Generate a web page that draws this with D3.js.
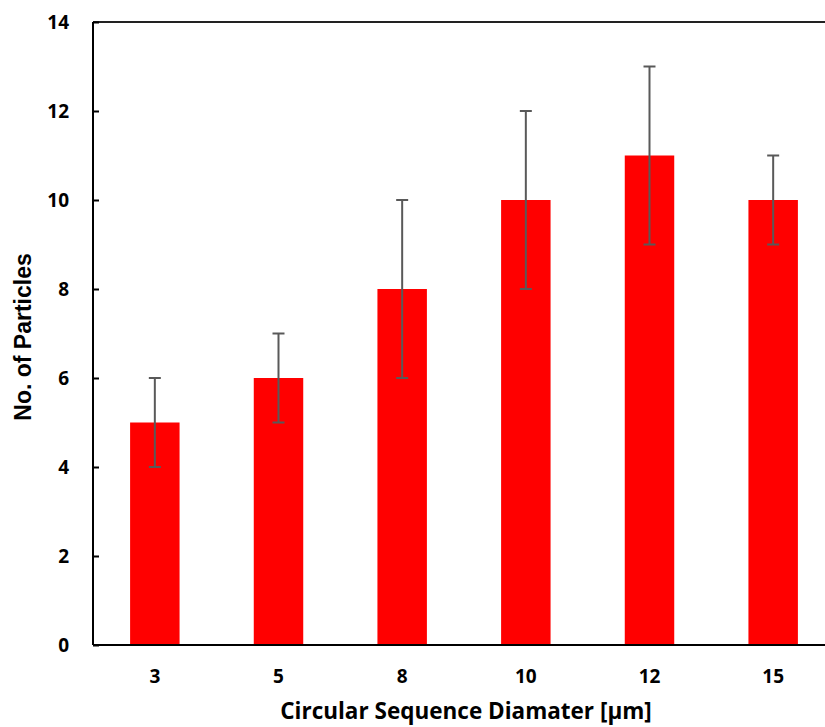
<!DOCTYPE html>
<html><head><meta charset="utf-8">
<script src="https://cdn.jsdelivr.net/npm/d3@7"></script>
<style>body{margin:0;background:#fff}svg{display:block}</style>
</head><body>
<script>
const categories = ["3","5","8","10","12","15"];
const values = [5,6,8,10,11,10];
const errors = [1,1,2,2,2,1];
const yTicks = [0,2,4,6,8,10,12,14];

const W=825,H=727;
const mLeft=93, mTop=22, mBottom=645, mRight=835;
const svg=d3.select("body").append("svg").attr("width",W).attr("height",H);
const x=d3.scaleBand().domain(categories).range([mLeft,mRight]).paddingInner(0.6).paddingOuter(0.3);
const y=d3.scaleLinear().domain([0,14]).range([mBottom,mTop]);
const tickFont="'Open Sans', Lato, sans-serif";

// bars
svg.append("g").selectAll("rect").data(values).join("rect")
  .attr("x",(d,i)=>x(categories[i])).attr("width",x.bandwidth())
  .attr("y",d=>y(d)).attr("height",d=>y(0)-y(d)).attr("fill","#ff0000");

// error bars
const eg=svg.append("g").attr("stroke","#595959").attr("stroke-width",2);
values.forEach((v,i)=>{
  const cx=x(categories[i])+x.bandwidth()/2;
  eg.append("line").attr("x1",cx).attr("x2",cx).attr("y1",y(v-errors[i])).attr("y2",y(v+errors[i]));
  [v-errors[i],v+errors[i]].forEach(e=>eg.append("line").attr("x1",cx-6).attr("x2",cx+6).attr("y1",y(e)).attr("y2",y(e)));
});

// top border
svg.append("line").attr("x1",mLeft).attr("x2",W).attr("y1",mTop).attr("y2",mTop).attr("stroke","#222").attr("stroke-width",2);

// y axis
const ya=svg.append("g").attr("transform",`translate(${mLeft},0)`)
  .call(d3.axisRight(y).tickValues(yTicks).tickSize(6).tickFormat(d3.format("d")));
ya.select(".domain").attr("stroke","#000").attr("stroke-width",2).attr("d",`M0,${mTop}V${mBottom}`);
ya.selectAll(".tick line").attr("stroke","#000").attr("stroke-width",2);
ya.selectAll(".tick text").attr("x",-24).attr("text-anchor","end").attr("dy","0.35em")
  .attr("font-family",tickFont).attr("font-weight","bold").attr("font-size",19).attr("fill","#000");

// x axis
const xa=svg.append("g").attr("transform",`translate(0,${mBottom})`)
  .call(d3.axisBottom(x).tickSize(0));
xa.select(".domain").attr("stroke","#000").attr("stroke-width",2).attr("d",`M${mLeft},0H${W}`);
xa.selectAll(".tick text").attr("y",38).attr("dy",0)
  .attr("font-family",tickFont).attr("font-weight","bold").attr("font-size",19).attr("fill","#000");

// titles
svg.append("text").attr("x",466).attr("y",719).attr("text-anchor","middle")
  .attr("font-family",tickFont).attr("font-weight","bold").attr("font-size",22.5).text("Circular Sequence Diamater [µm]");
svg.append("text").attr("transform",`translate(31,337) rotate(-90)`).attr("text-anchor","middle")
  .attr("font-family","'Liberation Sans', Arial, sans-serif").attr("font-weight","bold").attr("font-size",23).text("No. of Particles");
</script>
</body></html>
